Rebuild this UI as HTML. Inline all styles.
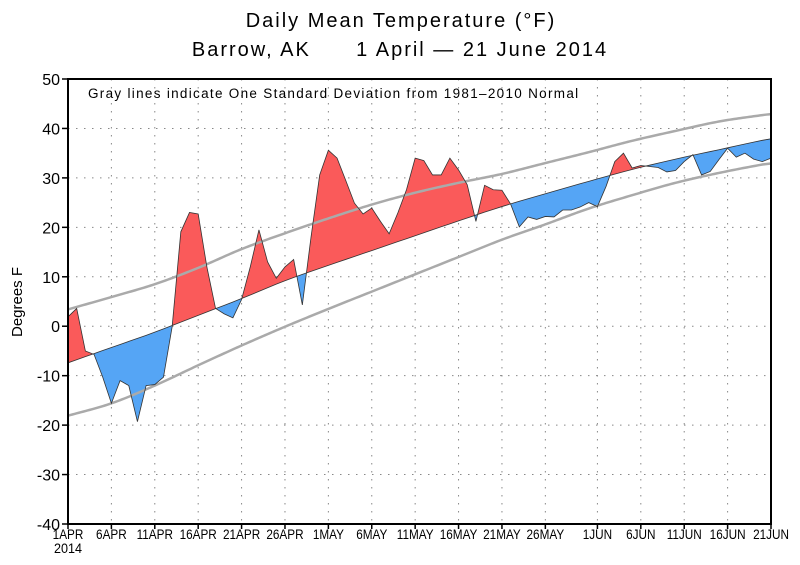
<!DOCTYPE html>
<html><head><meta charset="utf-8"><style>
html,body{margin:0;padding:0;background:#fff;}
svg{display:block;font-family:"Liberation Sans","DejaVu Sans",sans-serif;}
</style></head><body>
<svg id="chart" width="800" height="565" viewBox="0 0 800 565" xmlns="http://www.w3.org/2000/svg">
<text x="401" y="27" text-anchor="middle" font-size="20" letter-spacing="2" fill="#000">Daily Mean Temperature (°F)</text>
<text x="400" y="56" text-anchor="middle" font-size="20" letter-spacing="2" fill="#000" xml:space="preserve">Barrow, AK      1 April — 21 June 2014</text>
<text transform="translate(22,302) rotate(-90)" text-anchor="middle" font-size="15" fill="#000">Degrees F</text>
<defs>
<clipPath id="clipAbove"><polygon id="abovePoly"/></clipPath>
<clipPath id="clipBelow"><polygon id="belowPoly"/></clipPath>
</defs>
<g id="grid"></g>
<g id="fills"></g>
<g id="lines"></g>
<g id="axes"></g>
<text x="88" y="98" font-size="13.5" letter-spacing="1.3" fill="#000">Gray lines indicate One Standard Deviation from 1981–2010 Normal</text>
</svg>
<script>
const obs = [1.9,3.6,-5.0,-5.7,-10.3,-15.6,-11,-12,-19.3,-12,-11.8,-10.3,-0.1,19.1,23,22.7,12,3.6,2.5,1.7,5.4,12,19.5,13,9.7,12,13.5,4.3,18,30.6,35.6,34,29.5,24.9,22.7,23.9,21.2,18.7,22.9,27.6,34,33.5,30.6,30.6,34,31.6,28.6,21.2,28.5,27.6,27.5,24.7,20.1,22.1,21.6,22.2,22.1,23.5,23.5,24.1,25,24.2,28.3,33.3,35,32,32.5,32.3,32.1,31.2,31.5,33.3,34.7,30.6,31.3,33.7,36,34.2,35,33.8,33.3,34];
const knotDays = [0,5,10,15,20,25,30,35,40,45,50,55,60,65,70,75,80,81];
const normalVals = [-7.4,-4.3,-1.2,2.2,5.6,9.2,12.3,15.3,18.3,21.3,24.2,26.8,29.3,31.7,33.8,35.7,37.6,37.9];
const upperVals = [3.4,5.9,8.5,11.8,15.6,18.8,21.8,24.6,27,29,30.8,33,35.2,37.5,39.5,41.4,42.7,42.9];
const lowerVals = [-18.1,-15.6,-12,-7.9,-3.9,-0.1,3.5,7,10.5,14,17.5,20.6,23.8,26.5,29,31,32.7,32.9];
const tickDays = [0,5,10,15,20,25,30,35,40,45,50,55,61,66,71,76,81];
const tickLabels = ["1APR","6APR","11APR","16APR","21APR","26APR","1MAY","6MAY","11MAY","16MAY","21MAY","26MAY","1JUN","6JUN","11JUN","16JUN","21JUN"];
const yTicks = [-40,-30,-20,-10,0,10,20,30,40,50];

const X0=68, X1=771, Y0=79, Y1=524, NDAYS=81, YMIN=-40, YMAX=50;
const xs = d => X0 + (X1-X0)*d/NDAYS;
const ys = v => Y1 - (Y1-Y0)*(v-YMIN)/(YMAX-YMIN);
const NS="http://www.w3.org/2000/svg";
function mk(tag, attrs, parent){const e=document.createElementNS(NS,tag);for(const k in attrs)e.setAttribute(k,attrs[k]);parent.appendChild(e);return e;}
function interp(days, vals, d){
  const n=days.length;
  for(let i=0;i<n-1;i++){
    if(d>=days[i]&&d<=days[i+1]){
      const h=days[i+1]-days[i], t=(d-days[i])/h;
      const p0=vals[i], p1=vals[i+1];
      const m0 = i>0 ? (vals[i+1]-vals[i-1])/(days[i+1]-days[i-1])*h : (p1-p0);
      const m1 = i+2<n ? (vals[i+2]-vals[i])/(days[i+2]-days[i])*h : (p1-p0);
      const t2=t*t,t3=t2*t;
      return (2*t3-3*t2+1)*p0+(t3-2*t2+t)*m0+(-2*t3+3*t2)*p1+(t3-t2)*m1;
    }
  }
  return vals[n-1];
}
const days = obs.map((_,i)=>i);
const fine = []; for(let d=0; d<=NDAYS+1e-9; d+=0.25) fine.push(d);
const normal = days.map(d=>interp(knotDays,normalVals,d));
const grid=document.getElementById('grid'), fills=document.getElementById('fills'), lines=document.getElementById('lines'), axes=document.getElementById('axes');

tickDays.forEach(d=>{
  if(d===0||d===NDAYS) return;
  const g=mk('line',{x1:xs(d),x2:xs(d),y1:Y0,y2:Y1,stroke:'#888','stroke-width':1,'stroke-dasharray':'1.5,6.5'},grid);
  
  
});
yTicks.forEach(v=>{
  if(v===YMIN||v===YMAX) return;
  const g=mk('line',{x1:X0,x2:X1,y1:ys(v),y2:ys(v),stroke:'#888','stroke-width':1,'stroke-dasharray':'1.5,6.5'},grid);
  
  
});

const normPts = days.map(d=>xs(d)+','+ys(normal[d]));
const obsPts = days.map(d=>xs(d)+','+ys(obs[d]));
document.getElementById('abovePoly').setAttribute('points', normPts.join(' ')+' '+X1+','+(Y0-20)+' '+X0+','+(Y0-20));
document.getElementById('belowPoly').setAttribute('points', normPts.join(' ')+' '+X1+','+(Y1+20)+' '+X0+','+(Y1+20));
const areaPts = obsPts.join(' ')+' '+normPts.slice().reverse().join(' ');
const red=mk('polygon',{points:areaPts,fill:'#fa5a5a','clip-path':'url(#clipAbove)'},fills);


const blue=mk('polygon',{points:areaPts,fill:'#55a5f5','clip-path':'url(#clipBelow)'},fills);



const upPts = fine.map(d=>xs(d)+','+ys(interp(knotDays,upperVals,d))).join(' ');
const loPts = fine.map(d=>xs(d)+','+ys(interp(knotDays,lowerVals,d))).join(' ');
const up=mk('polyline',{points:upPts,fill:'none',stroke:'#aaa','stroke-width':2.5},lines);


const lo=mk('polyline',{points:loPts,fill:'none',stroke:'#aaa','stroke-width':2.5},lines);


const nl=mk('polyline',{points:normPts.join(' '),fill:'none',stroke:'#333','stroke-width':0.8},lines);


const ol=mk('polyline',{points:obsPts.join(' '),fill:'none',stroke:'#333','stroke-width':0.8},lines);



const fr=mk('rect',{x:X0,y:Y0,width:X1-X0,height:Y1-Y0,fill:'none',stroke:'#000','stroke-width':2},axes);


yTicks.forEach(v=>{
  const t=mk('line',{x1:X0-6,x2:X0,y1:ys(v),y2:ys(v),stroke:'#000','stroke-width':1.5},axes);
  
  
  const l=mk('text',{x:X0-8,y:ys(v)+6,'text-anchor':'end','font-size':16,fill:'#000'},axes);
  l.textContent=v;
  
  
});
tickDays.forEach((d,i)=>{
  const t=mk('line',{x1:xs(d),x2:xs(d),y1:Y1,y2:Y1+5,stroke:'#000','stroke-width':1.5},axes);
  
  
  const l=mk('text',{x:0,y:0,'text-anchor':'middle','font-size':14,fill:'#000',transform:'translate('+xs(d)+','+(Y1+15)+') scale(0.84,1)'},axes);
  l.textContent=tickLabels[i];
  
  
});
const yr=mk('text',{x:0,y:0,'text-anchor':'middle','font-size':14,fill:'#000',transform:'translate('+xs(0)+','+(Y1+29)+') scale(0.9,1)'},axes);
yr.textContent='2014';


</script>
</body></html>
